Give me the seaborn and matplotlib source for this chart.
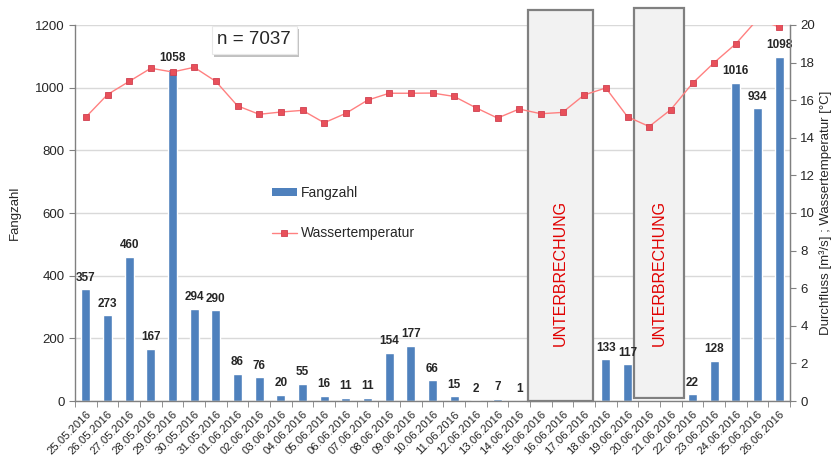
import numpy as np
import pandas as pd
import matplotlib
matplotlib.use("Agg")
import matplotlib.pyplot as plt
from matplotlib.patches import Rectangle, Patch
from matplotlib.lines import Line2D
import matplotlib.patheffects as pe
import seaborn as sns

dates = ["25.05.2016", "26.05.2016", "27.05.2016", "28.05.2016", "29.05.2016",
         "30.05.2016", "31.05.2016", "01.06.2016", "02.06.2016", "03.06.2016",
         "04.06.2016", "05.06.2016", "06.06.2016", "07.06.2016", "08.06.2016",
         "09.06.2016", "10.06.2016", "11.06.2016", "12.06.2016", "13.06.2016",
         "14.06.2016", "15.06.2016", "16.06.2016", "17.06.2016", "18.06.2016",
         "19.06.2016", "20.06.2016", "21.06.2016", "22.06.2016", "23.06.2016",
         "24.06.2016", "25.06.2016", "26.06.2016"]
fangzahl = [357, 273, 460, 167, 1058, 294, 290, 86, 76, 20, 55, 16, 11, 11,
            154, 177, 66, 15, 2, 7, 1, np.nan, np.nan, np.nan, 133, 117,
            np.nan, np.nan, 22, 128, 1016, 934, 1098]
wassertemp = [15.1, 16.3, 17.0, 17.7, 17.5, 17.75, 17.0, 15.7, 15.25, 15.37,
              15.46, 14.8, 15.3, 16.0, 16.37, 16.37, 16.38, 16.2, 15.6, 15.05,
              15.53, 15.28, 15.35, 16.28, 16.65, 15.12, 14.6, 15.5, 16.9, 18.0,
              19.0, 20.3, 19.9]
interruptions = [(20.4, 23.4), (25.3, 27.6)]
n_total = "n = 7037"

sns.set_style("white")
plt.rcParams['font.family'] = ['Liberation Sans', 'DejaVu Sans']

fig = plt.figure(figsize=(8.32, 4.68), dpi=100)
ax = fig.add_axes([75/832, 67/468, 715/832, 376/468])

df = pd.DataFrame({"Datum": dates, "Fangzahl": fangzahl})
sns.barplot(data=df, x="Datum", y="Fangzahl", color="#4F81BD", saturation=1,
            width=0.42, ax=ax, zorder=2)
ax.set_ylim(0, 1200)
ax.set_xlim(-0.5, len(dates) - 0.5)
ax.set_yticks(np.arange(0, 1201, 200))
ax.yaxis.grid(True, color="#D9D9D9", linewidth=1)
ax.set_axisbelow(True)
ax.set_xlabel("")
ax.set_ylabel("Fangzahl", fontsize=9.5, labelpad=10)

for i, v in enumerate(fangzahl):
    if not np.isnan(v):
        ax.annotate(f"{int(v)}", (i, v), xytext=(0, 4),
                    textcoords="offset points", ha="center", va="bottom",
                    fontsize=8.5, fontweight="bold", zorder=4)

ax.set_xticks(range(len(dates)))
ax.set_xticklabels(dates, rotation=45, ha="right", rotation_mode="anchor",
                   fontsize=8.2)
ax.tick_params(axis="x", length=0, pad=6)
ax.set_xticks(np.arange(-0.5, len(dates), 1), minor=True)
ax.tick_params(axis="x", which="minor", length=4, color="#808080", bottom=True)
ax.tick_params(axis="y", length=4, color="#808080", labelsize=9.5, left=True)

ax.spines["top"].set_visible(False)
for s in ["left", "bottom", "right"]:
    ax.spines[s].set_color("#808080")
    ax.spines[s].set_linewidth(1)

# interruption boxes
for (x0, x1), (yb, yt) in zip(interruptions, [(0, 1248), (10, 1255)]):
    r = Rectangle((x0, yb), x1 - x0, yt - yb, facecolor="#F2F2F2",
                  edgecolor="#808080", linewidth=1.6, clip_on=False, zorder=3)
    ax.add_patch(r)
    ax.text((x0 + x1) / 2, 410, "UNTERBRECHUNG", rotation=90, color="#E00000",
            ha="center", va="center", fontsize=11.5, zorder=4)

ax2 = ax.twinx()
ax2.set_position(ax.get_position())
ax2.plot(range(len(dates)), wassertemp, color="#FF8080", linewidth=1,
         marker="s", markersize=4.5, markerfacecolor="#E8505A",
         markeredgecolor="#D04050", markeredgewidth=0.6, zorder=5, clip_on=True)
ax2.set_ylim(0, 20)
ax2.set_yticks(np.arange(0, 21, 2))
ax2.tick_params(axis="y", length=4, color="#808080", labelsize=9.5, right=True)
ax2.set_ylabel("Durchfluss [m³/s] ; Wassertemperatur [°C]", fontsize=9.5,
               labelpad=3)
for s in ["top", "left", "bottom"]:
    ax2.spines[s].set_visible(False)
ax2.spines["right"].set_color("#808080")

handles = [Patch(facecolor="#4F81BD", edgecolor="none"),
           Line2D([0], [0], color="#FF8080", linewidth=1, marker="s",
                  markersize=4.5, markerfacecolor="#E8505A",
                  markeredgecolor="#D04050", markeredgewidth=0.6)]
leg = ax.legend(handles, ["Fangzahl", "Wassertemperatur"], frameon=False,
                loc="upper left", bbox_to_anchor=(0.258, 0.605),
                fontsize=10, labelspacing=1.9, handlelength=1.8,
                handleheight=0.45, handletextpad=0.25)
leg.set_zorder(6)

t = fig.text(254/832, 1 - 40/468, n_total, fontsize=13.5, ha="center",
             va="center",
             bbox=dict(boxstyle="square,pad=0.3", facecolor="white",
                       edgecolor="#E8E8E8", linewidth=0.8))
t.get_bbox_patch().set_path_effects(
    [pe.SimplePatchShadow(offset=(2, -2), shadow_rgbFace="#999999", alpha=0.6),
     pe.Normal()])

fig.savefig("out.png", dpi=100)
